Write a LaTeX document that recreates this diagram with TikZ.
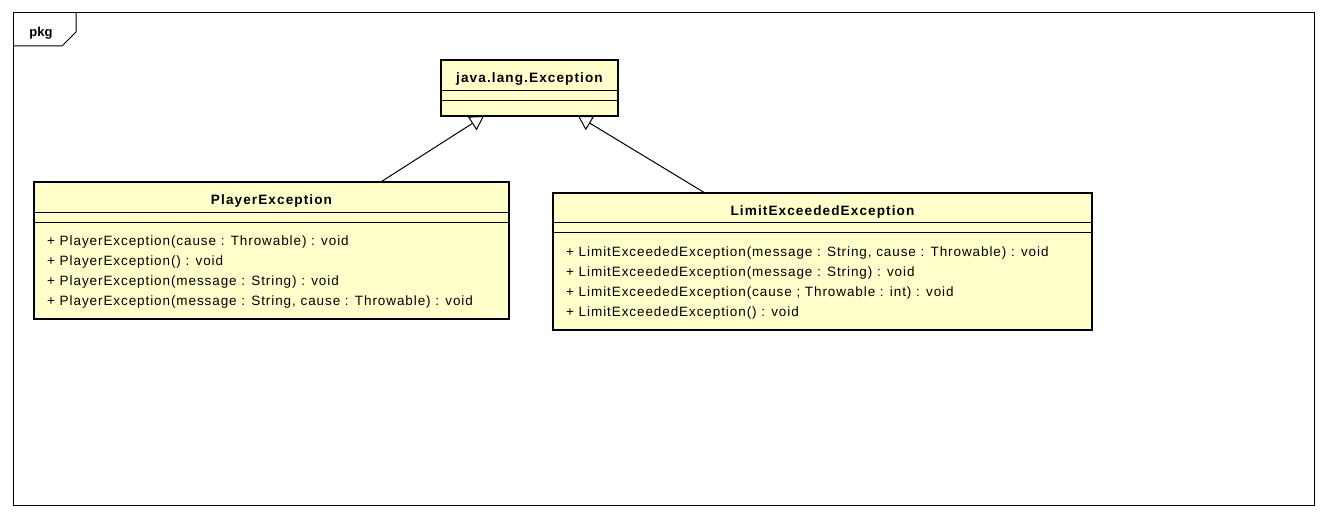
\documentclass[tikz,border=0pt]{standalone}
\usepackage{fontspec}
\setmainfont{Liberation Sans}
\newfontfamily\umlfont[LetterSpace=8]{Liberation Sans}
\newfontfamily\opsfont[LetterSpace=6.8]{Liberation Sans}
\usetikzlibrary{arrows.meta,calc}
\definecolor{classfill}{RGB}{255,255,204}
\tikzset{
  umlclass/.style={draw, line width=2.6pt, fill=classfill, anchor=north west,
    inner sep=0pt, outer sep=0pt},
  classname/.style={anchor=base, inner sep=0pt,
    font=\umlfont\bfseries\fontsize{13.6}{16}\selectfont},
  % base of a multi-line node is its last line
  members/.style={anchor=base west, align=left, inner sep=0pt,
    font=\opsfont\fontsize{13.5}{20.2}\selectfont},
  separator/.style={line width=1pt},
  generalization/.style={line width=1pt, line join=miter,
    -{Triangle[open,length=14pt,width=16pt]}}
}

\begin{document}
\begin{tikzpicture}[x=1pt,y=-1pt]
  \useasboundingbox (0,0) rectangle (1328,518);
  % package frame
  \draw[line width=1pt] (13,13) rectangle (1314,505);
  \draw[line width=1pt] (13,46) -- (62,46) -- (76,32) -- (76,13);
  \node[anchor=base, inner sep=0pt, font=\bfseries\fontsize{13}{16}\selectfont] (pkg) at (41,36.5) {pkg};

  % classes
  \node[umlclass, minimum width=177pt, minimum height=56pt] (exc) at (441,60) {};
  \node[classname] (exc-name) at ($(exc.north)+(0,23)$) {java.lang.Exception};
  \draw[separator] ($(exc.north west)+(0,31)$) -- ($(exc.north east)+(0,31)$);
  \draw[separator] ($(exc.north west)+(0,41)$) -- ($(exc.north east)+(0,41)$);

  \node[umlclass, minimum width=475pt, minimum height=137pt] (player) at (34,182) {};
  \node[classname] (player-name) at ($(player.north)+(0,23)$) {PlayerException};
  \draw[separator] ($(player.north west)+(0,30.5)$) -- ($(player.north east)+(0,30.5)$);
  \draw[separator] ($(player.north west)+(0,40.5)$) -- ($(player.north east)+(0,40.5)$);
  \node[members] (player-ops) at ($(player.north west)+(13,124)$) {%
    + PlayerException(cause : Throwable) : void\\
    + PlayerException() : void\\
    + PlayerException(message : String) : void\\
    + PlayerException(message : String, cause : Throwable) : void};

  \node[umlclass, minimum width=539pt, minimum height=137pt] (limit) at (553,193) {};
  \node[classname] (limit-name) at ($(limit.north)+(0,22.5)$) {LimitExceededException};
  \draw[separator] ($(limit.north west)+(0,30)$) -- ($(limit.north east)+(0,30)$);
  \draw[separator] ($(limit.north west)+(0,40)$) -- ($(limit.north east)+(0,40)$);
  \node[members] (limit-ops) at ($(limit.north west)+(13,124)$) {%
    + LimitExceededException(message : String, cause : Throwable) : void\\
    + LimitExceededException(message : String) : void\\
    + LimitExceededException(cause ; Throwable : int) : void\\
    + LimitExceededException() : void};

  % generalizations
  \draw[generalization] ($(player.north west)!0.73!(player.north east)$)
    -- ($(exc.south west)!0.243!(exc.south east)$);
  \draw[generalization] ($(limit.north west)!0.282!(limit.north east)$)
    -- ($(exc.south west)!0.774!(exc.south east)$);
\end{tikzpicture}
\end{document}
